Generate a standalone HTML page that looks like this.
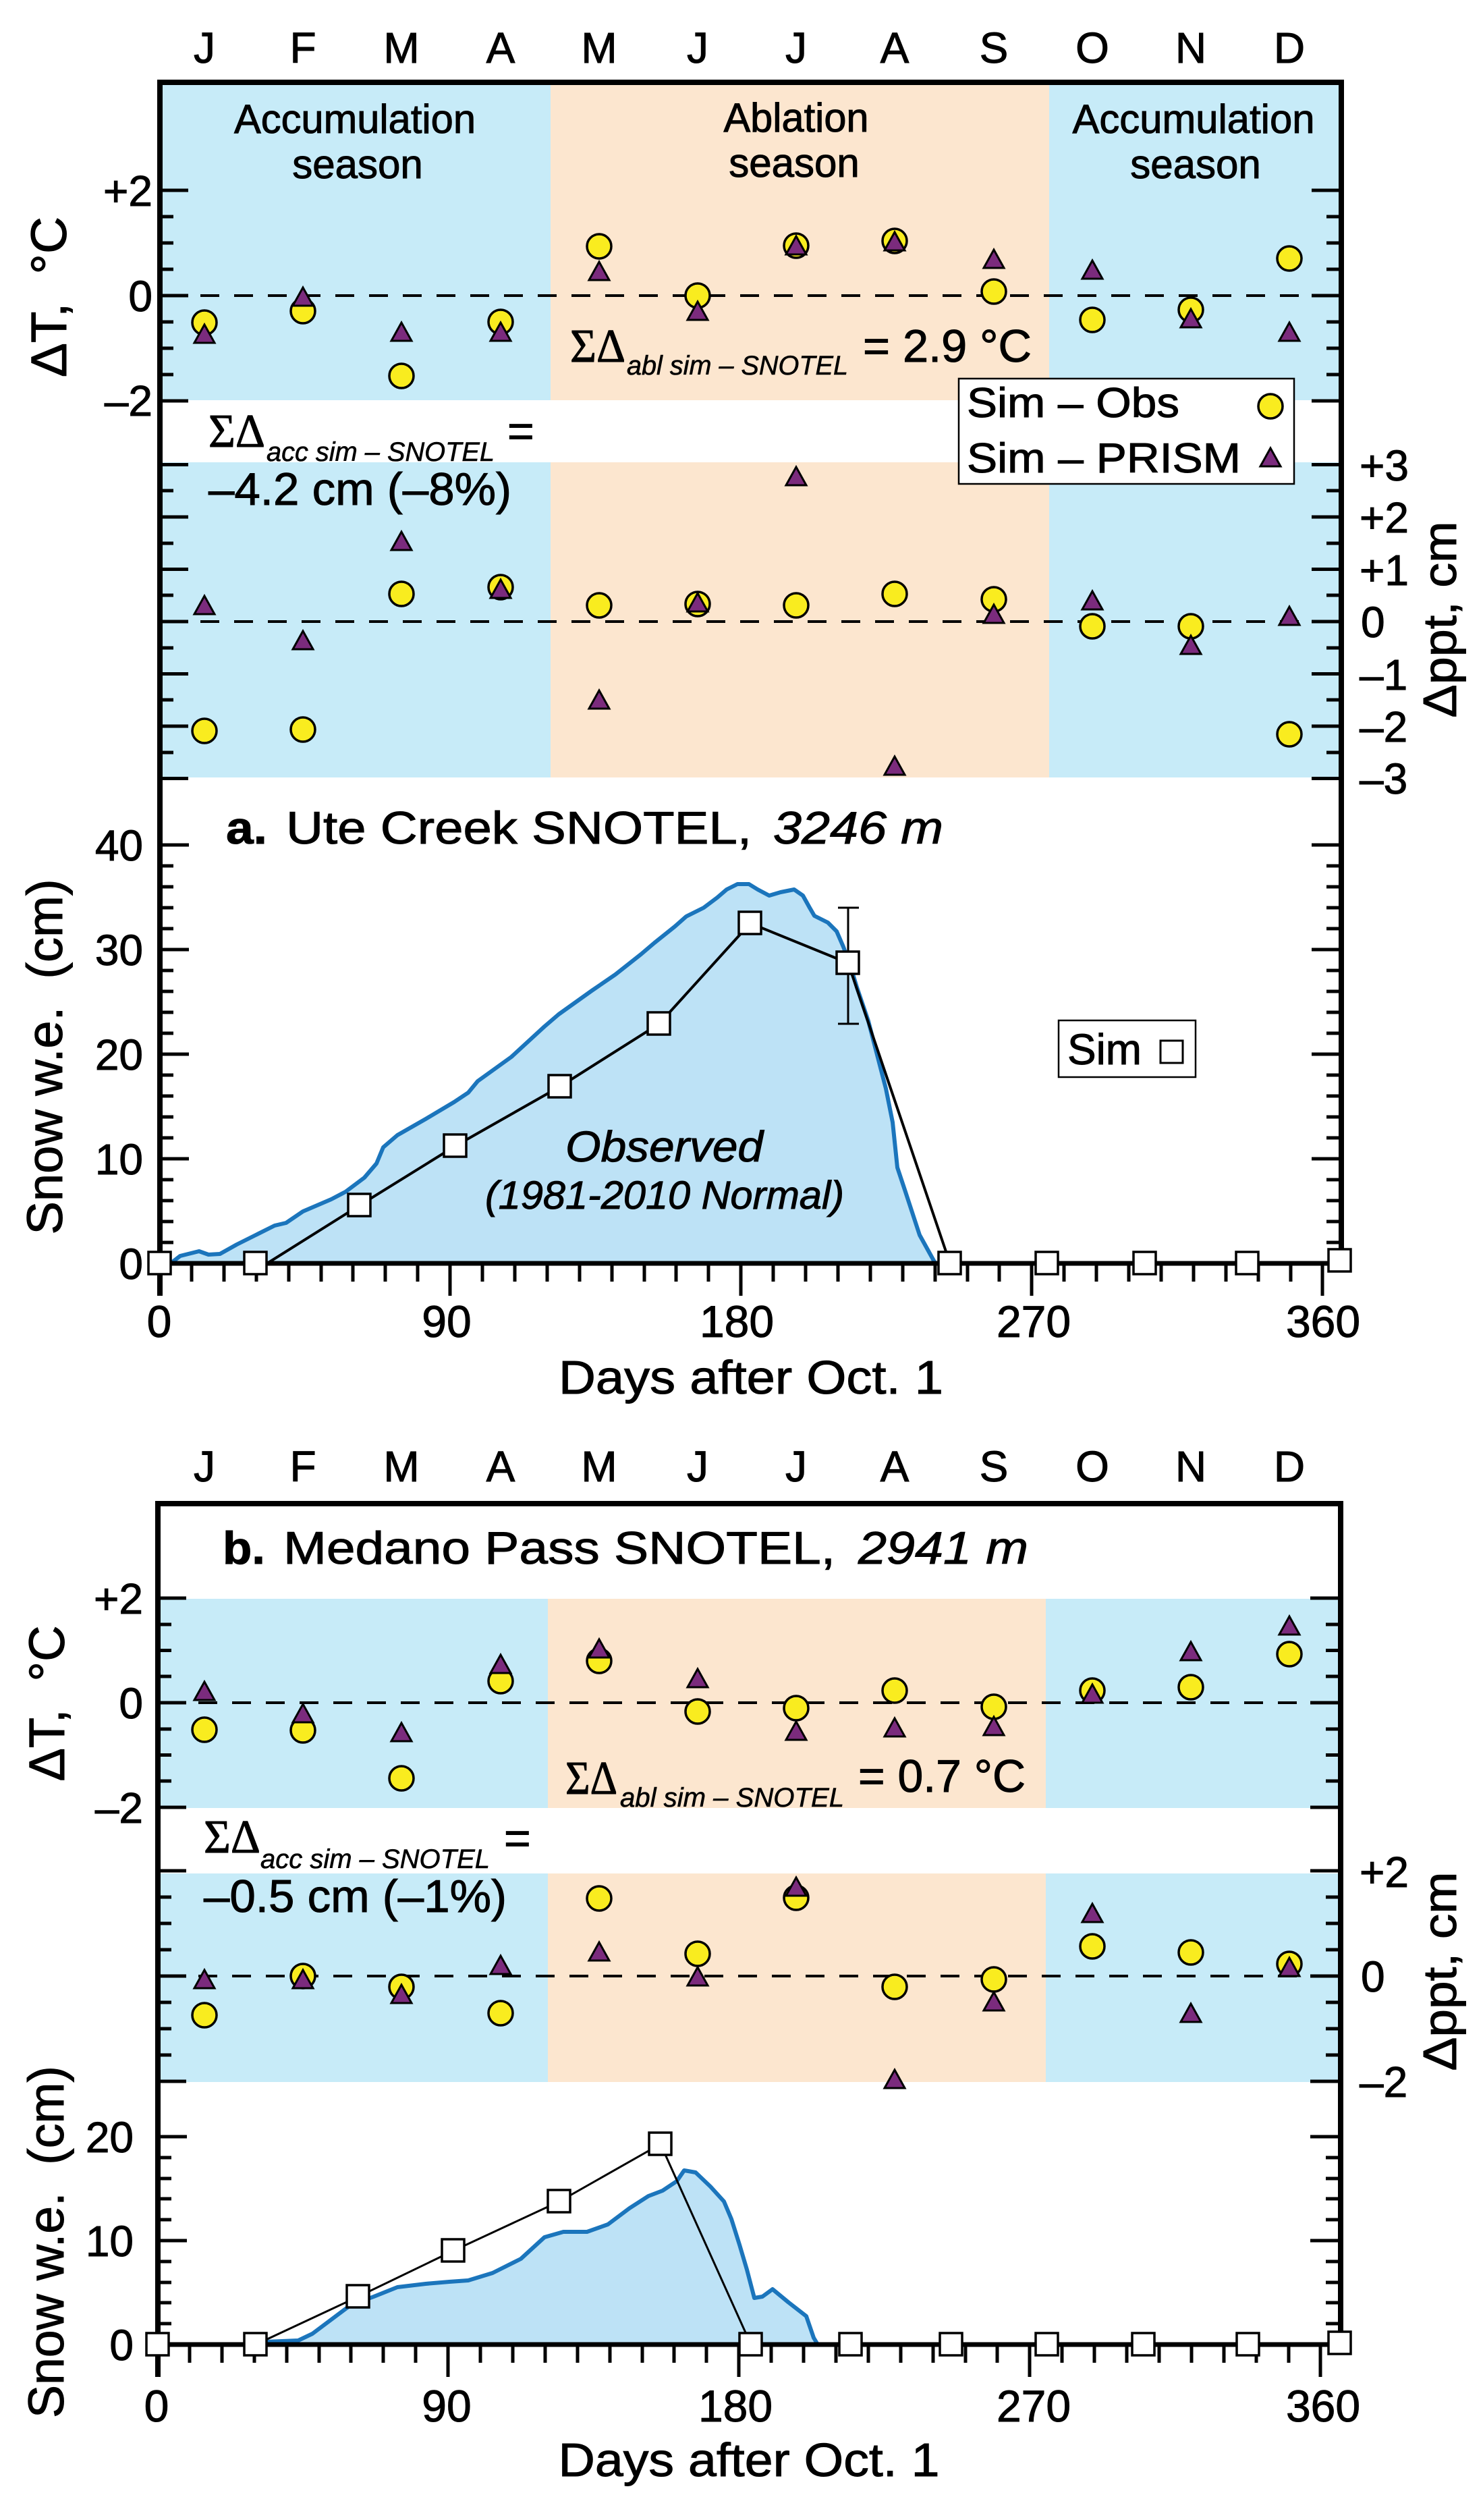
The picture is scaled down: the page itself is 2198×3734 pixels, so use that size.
<!DOCTYPE html>
<html><head><meta charset="utf-8"><style>
html,body{margin:0;padding:0;background:#fff;}
svg{display:block;}
text{font-family:"Liberation Sans",Arial,sans-serif;fill:#000;stroke:#000;stroke-width:1px;}
.sf{font-family:"Liberation Serif",serif;}
.it{font-style:italic;}
.sub{stroke-width:0.6px;}
</style></head><body>
<svg width="2198" height="3734" viewBox="0 0 2198 3734" xmlns="http://www.w3.org/2000/svg">
<defs>
<path id="tri" d="M0,-16L15,11H-15Z" fill="#7b2b7d" stroke="#000" stroke-width="3"/>
<circle id="cir" r="18" fill="#f9ec1f" stroke="#000" stroke-width="3.5"/>
<path id="xt" fill="none" stroke="#000" stroke-width="5" d="M284,1872v27M332,1872v27M380,1872v27M428,1872v27M476,1872v27M523,1872v27M571,1872v27M619,1872v27M715,1872v27M763,1872v27M811,1872v27M859,1872v27M907,1872v27M955,1872v27M1002,1872v27M1050,1872v27M1146,1872v27M1194,1872v27M1242,1872v27M1290,1872v27M1338,1872v27M1386,1872v27M1434,1872v27M1481,1872v27M1577,1872v27M1625,1872v27M1673,1872v27M1721,1872v27M1769,1872v27M1817,1872v27M1865,1872v27M1913,1872v27M667,1872v48M1098,1872v48M1529,1872v48M1960,1872v48"/>
</defs>
<rect width="2198" height="3734" fill="#fff"/>

<!-- ================= PANEL A ================= -->
<rect x="237" y="122" width="579" height="471" fill="#c7ebf8"/>
<rect x="237" y="685" width="579" height="467" fill="#c7ebf8"/>
<rect x="816" y="122" width="739" height="471" fill="#fce6cf"/>
<rect x="816" y="685" width="739" height="467" fill="#fce6cf"/>
<rect x="1555" y="122" width="433" height="471" fill="#c7ebf8"/>
<rect x="1555" y="685" width="433" height="467" fill="#c7ebf8"/>

<!-- observed a -->
<polygon fill="#bde2f6" points="253,1872 267,1861 295,1854 309,1859 326,1858 351,1844 379,1830 407,1816 424,1812 449,1795 491,1777 512,1766 540,1745 558,1724 568,1700 589,1682 631,1658 673,1633 694,1619 708,1602 758,1566 807,1521 828,1503 877,1468 912,1444 950,1414 970,1397 1000,1373 1017,1358 1043,1345 1063,1330 1077,1318 1093,1310 1110,1310 1123,1318 1140,1327 1157,1322 1177,1318 1190,1327 1200,1345 1207,1357 1227,1367 1240,1380 1250,1403 1260,1430 1270,1463 1287,1513 1300,1563 1313,1613 1323,1663 1330,1730 1342,1766 1363,1830 1384,1868 1387,1872"/>
<polyline fill="none" stroke="#1b75bc" stroke-width="6" stroke-linejoin="round" points="253,1872 267,1861 295,1854 309,1859 326,1858 351,1844 379,1830 407,1816 424,1812 449,1795 491,1777 512,1766 540,1745 558,1724 568,1700 589,1682 631,1658 673,1633 694,1619 708,1602 758,1566 807,1521 828,1503 877,1468 912,1444 950,1414 970,1397 1000,1373 1017,1358 1043,1345 1063,1330 1077,1318 1093,1310 1110,1310 1123,1318 1140,1327 1157,1322 1177,1318 1190,1327 1200,1345 1207,1357 1227,1367 1240,1380 1250,1403 1260,1430 1270,1463 1287,1513 1300,1563 1313,1613 1323,1663 1330,1730 1342,1766 1363,1830 1384,1868 1387,1872"/>

<!-- dashed zero lines a -->
<path d="M247,438H1984M247,921H1984" stroke="#000" stroke-width="4" stroke-dasharray="28 22" fill="none"/>

<!-- ticks a -->
<path fill="none" stroke="#000" stroke-width="5" d="M237,282h42M237,438h42M237,594h42M237,688.5h42M237,766h42M237,843.5h42M237,921h42M237,998.5h42M237,1076h42M237,1153.5h42M237,1252h43M237,1407h43M237,1562h43M237,1717h43
M237,321h20M237,360h20M237,399h20M237,477h20M237,516h20M237,555h20M237,727h20M237,805h20M237,882h20M237,960h20M237,1037h20M237,1115h20M237,1283h20M237,1314h20M237,1345h20M237,1376h20M237,1438h20M237,1469h20M237,1500h20M237,1531h20M237,1593h20M237,1624h20M237,1655h20M237,1686h20M237,1748h20M237,1779h20M237,1810h20M237,1841h20
M1988,282h-44M1988,438h-44M1988,594h-44M1988,688.5h-44M1988,766h-44M1988,843.5h-44M1988,921h-44M1988,998.5h-44M1988,1076h-44M1988,1153.5h-44M1988,1252h-44M1988,1407h-44M1988,1562h-44M1988,1717h-44
M1988,321h-22M1988,360h-22M1988,399h-22M1988,477h-22M1988,516h-22M1988,555h-22M1988,727h-22M1988,805h-22M1988,882h-22M1988,960h-22M1988,1037h-22M1988,1115h-22M1988,1283h-22M1988,1314h-22M1988,1345h-22M1988,1376h-22M1988,1438h-22M1988,1469h-22M1988,1500h-22M1988,1531h-22M1988,1593h-22M1988,1624h-22M1988,1655h-22M1988,1686h-22M1988,1748h-22M1988,1779h-22M1988,1810h-22M1988,1841h-22"/>
<use href="#xt"/>

<!-- frame a -->
<path d="M237,1920V122H1988V1872" fill="none" stroke="#000" stroke-width="8"/>
<path d="M237,1872H1988" fill="none" stroke="#000" stroke-width="7"/>

<!-- sim a -->
<polyline fill="none" stroke="#000" stroke-width="4" points="237,1872 396,1872 533,1786 675,1698 830,1610 977,1517 1112,1368 1257,1427 1408,1872 1986,1872"/>
<path d="M1257,1345V1517M1242,1345H1273M1242,1517H1273" stroke="#000" stroke-width="3" fill="none"/>
<g fill="#fff" stroke="#000" stroke-width="3.5">
<rect x="220" y="1855" width="33" height="33"/><rect x="362" y="1855" width="33" height="33"/><rect x="516" y="1769" width="33" height="33"/><rect x="658" y="1681" width="33" height="33"/><rect x="813" y="1593" width="33" height="33"/><rect x="960" y="1500" width="33" height="33"/><rect x="1095" y="1351" width="33" height="33"/><rect x="1240" y="1410" width="33" height="33"/><rect x="1391" y="1855" width="33" height="33"/><rect x="1535" y="1855" width="33" height="33"/><rect x="1680" y="1855" width="33" height="33"/><rect x="1832" y="1855" width="33" height="33"/><rect x="1969" y="1851" width="33" height="33"/>
</g>

<!-- markers a -->
<use href="#cir" x="303" y="478"/><use href="#cir" x="449" y="461"/><use href="#cir" x="595" y="557"/><use href="#cir" x="742" y="477"/><use href="#cir" x="888" y="365"/><use href="#cir" x="1034" y="438"/><use href="#cir" x="1180" y="364"/><use href="#cir" x="1326" y="357"/><use href="#cir" x="1473" y="432"/><use href="#cir" x="1619" y="474"/><use href="#cir" x="1765" y="459"/><use href="#cir" x="1911" y="383"/>
<use href="#tri" x="303" y="497"/><use href="#tri" x="449" y="442"/><use href="#tri" x="595" y="494"/><use href="#tri" x="742" y="494"/><use href="#tri" x="888" y="404"/><use href="#tri" x="1034" y="463"/><use href="#tri" x="1180" y="366"/><use href="#tri" x="1326" y="360"/><use href="#tri" x="1473" y="386"/><use href="#tri" x="1619" y="402"/><use href="#tri" x="1765" y="474"/><use href="#tri" x="1911" y="494"/>
<use href="#cir" x="303" y="1083"/><use href="#cir" x="449" y="1081"/><use href="#cir" x="595" y="880"/><use href="#cir" x="742" y="870"/><use href="#cir" x="888" y="897"/><use href="#cir" x="1034" y="895"/><use href="#cir" x="1180" y="897"/><use href="#cir" x="1326" y="880"/><use href="#cir" x="1473" y="888"/><use href="#cir" x="1619" y="928"/><use href="#cir" x="1765" y="928"/><use href="#cir" x="1911" y="1088"/>
<use href="#tri" x="303" y="899"/><use href="#tri" x="449" y="951"/><use href="#tri" x="595" y="804"/><use href="#tri" x="742" y="875"/><use href="#tri" x="888" y="1039"/><use href="#tri" x="1034" y="895"/><use href="#tri" x="1180" y="708"/><use href="#tri" x="1326" y="1137"/><use href="#tri" x="1473" y="912"/><use href="#tri" x="1619" y="892"/><use href="#tri" x="1765" y="958"/><use href="#tri" x="1911" y="915"/>

<!-- legend a -->
<rect x="1421" y="561" width="497" height="156" fill="#fff" stroke="#000" stroke-width="2.5"/>
<text x="1433" y="618" font-size="62" textLength="315" lengthAdjust="spacingAndGlyphs">Sim – Obs</text>
<text x="1433" y="700" font-size="62" textLength="406" lengthAdjust="spacingAndGlyphs">Sim – PRISM</text>
<use href="#cir" x="1883" y="602"/>
<use href="#tri" x="1883" y="680"/>

<rect x="1569" y="1512" width="203" height="84" fill="#fff" stroke="#000" stroke-width="2.5"/>
<text x="1582" y="1577" font-size="64" textLength="110" lengthAdjust="spacingAndGlyphs">Sim</text>
<rect x="1720" y="1542" width="33" height="33" fill="#fff" stroke="#000" stroke-width="3"/>

<!-- texts a -->
<g font-size="64" text-anchor="middle">
<text x="303" y="93">J</text><text x="449" y="93">F</text><text x="595" y="93">M</text><text x="742" y="93">A</text><text x="888" y="93">M</text><text x="1034" y="93">J</text><text x="1180" y="93">J</text><text x="1326" y="93">A</text><text x="1473" y="93">S</text><text x="1619" y="93">O</text><text x="1765" y="93">N</text><text x="1911" y="93">D</text>
</g>
<g font-size="60" text-anchor="middle">
<text x="526" y="197" textLength="358" lengthAdjust="spacingAndGlyphs">Accumulation</text>
<text x="530" y="264">season</text>
<text x="1180" y="195" textLength="215" lengthAdjust="spacingAndGlyphs">Ablation</text>
<text x="1177" y="262">season</text>
<text x="1769" y="197" textLength="359" lengthAdjust="spacingAndGlyphs">Accumulation</text>
<text x="1772" y="264">season</text>
</g>
<g font-size="64" text-anchor="end">
<text x="226" y="305">+2</text><text x="226" y="461">0</text><text x="226" y="616">–2</text>
<text x="212" y="1275">40</text><text x="212" y="1430">30</text><text x="212" y="1585">20</text><text x="212" y="1740">10</text><text x="212" y="1895">0</text>
</g>
<g font-size="64">
<text x="2015" y="712">+3</text><text x="2015" y="789">+2</text><text x="2015" y="867">+1</text><text x="2017" y="944">0</text><text x="2015" y="1022">–1</text><text x="2015" y="1099">–2</text><text x="2015" y="1176">–3</text>
</g>
<g font-size="66" text-anchor="middle">
<text x="236" y="1981">0</text><text x="662" y="1981">90</text><text x="1092" y="1981">180</text><text x="1532" y="1981">270</text><text x="1961" y="1981">360</text>
</g>
<text x="1113" y="2065" font-size="70" text-anchor="middle" textLength="570" lengthAdjust="spacingAndGlyphs">Days after Oct. 1</text>
<text transform="translate(98,440) rotate(-90)" font-size="74" text-anchor="middle" textLength="238" lengthAdjust="spacingAndGlyphs">ΔT,&#160; °C</text>
<text transform="translate(2158,918) rotate(-90)" font-size="70" text-anchor="middle" textLength="291" lengthAdjust="spacingAndGlyphs">Δppt, cm</text>
<text transform="translate(92,1566) rotate(-90)" font-size="74" text-anchor="middle" textLength="527" lengthAdjust="spacingAndGlyphs">Snow w.e.&#160; (cm)</text>

<text x="309" y="662" class="sf" font-size="70" textLength="84" lengthAdjust="spacingAndGlyphs">ΣΔ</text>
<text x="395" y="683" class="it sub" font-size="40" textLength="338" lengthAdjust="spacingAndGlyphs">acc sim – SNOTEL</text>
<text x="752" y="662" font-size="68">=</text>
<text x="309" y="748" font-size="68" textLength="449" lengthAdjust="spacingAndGlyphs">–4.2 cm (–8%)</text>

<text x="845" y="536" class="sf" font-size="70" textLength="82" lengthAdjust="spacingAndGlyphs">ΣΔ</text>
<text x="929" y="555" class="it sub" font-size="40" textLength="328" lengthAdjust="spacingAndGlyphs">abl sim – SNOTEL</text>
<text x="1279" y="536" font-size="68" textLength="250" lengthAdjust="spacingAndGlyphs">= 2.9 °C</text>

<text x="335" y="1250" font-size="68" font-weight="bold" textLength="61" lengthAdjust="spacingAndGlyphs">a.</text>
<text x="424" y="1250" font-size="68" textLength="690" lengthAdjust="spacingAndGlyphs">Ute Creek SNOTEL,</text>
<text x="1146" y="1250" font-size="68" class="it" textLength="252" lengthAdjust="spacingAndGlyphs">3246 m</text>

<text x="838" y="1721" font-size="64" class="it" textLength="293" lengthAdjust="spacingAndGlyphs">Observed</text>
<text x="719" y="1791" font-size="58" class="it" textLength="532" lengthAdjust="spacingAndGlyphs">(1981-2010 Normal)</text>

<!-- ================= PANEL B ================= -->
<rect x="234" y="2369" width="578" height="310" fill="#c7ebf8"/>
<rect x="234" y="2776" width="578" height="309" fill="#c7ebf8"/>
<rect x="812" y="2369" width="738" height="310" fill="#fce6cf"/>
<rect x="812" y="2776" width="738" height="309" fill="#fce6cf"/>
<rect x="1550" y="2369" width="437" height="310" fill="#c7ebf8"/>
<rect x="1550" y="2776" width="437" height="309" fill="#c7ebf8"/>

<polygon fill="#bde2f6" points="385,3474 393,3470 442,3468 463,3458 491,3437 519,3416 554,3403 589,3389 631,3384 666,3381 694,3379 730,3368 772,3347 807,3315 835,3307 870,3307 901,3296 933,3272 961,3254 982,3246 1003,3232 1014,3216 1031,3219 1053,3240 1073,3262 1084,3288 1096,3326 1107,3363 1118,3405 1130,3403 1145,3392 1168,3411 1195,3432 1206,3464 1212,3474"/>
<polyline fill="none" stroke="#1b75bc" stroke-width="6" stroke-linejoin="round" points="385,3474 393,3470 442,3468 463,3458 491,3437 519,3416 554,3403 589,3389 631,3384 666,3381 694,3379 730,3368 772,3347 807,3315 835,3307 870,3307 901,3296 933,3272 961,3254 982,3246 1003,3232 1014,3216 1031,3219 1053,3240 1073,3262 1084,3288 1096,3326 1107,3363 1118,3405 1130,3403 1145,3392 1168,3411 1195,3432 1206,3464 1212,3474"/>

<path d="M244,2523H1983M244,2928H1983" stroke="#000" stroke-width="4" stroke-dasharray="28 22" fill="none"/>

<path fill="none" stroke="#000" stroke-width="5" d="M234,2368h42M234,2523h42M234,2678h42M234,2772h42M234,2928h42M234,3084h42M234,3166h43M234,3320h43
M234,2407h20M234,2445.5h20M234,2484h20M234,2562h20M234,2600.5h20M234,2639h20M234,2811h20M234,2850h20M234,2889h20M234,2967h20M234,3006h20M234,3045h20M234,3197h20M234,3228h20M234,3258h20M234,3289h20M234,3351h20M234,3382h20M234,3412h20M234,3443h20
M1987,2368h-45M1987,2523h-45M1987,2678h-45M1987,2772h-45M1987,2928h-45M1987,3084h-45M1987,3166h-45M1987,3320h-45
M1987,2407h-22M1987,2445.5h-22M1987,2484h-22M1987,2562h-22M1987,2600.5h-22M1987,2639h-22M1987,2811h-22M1987,2850h-22M1987,2889h-22M1987,2967h-22M1987,3006h-22M1987,3045h-22M1987,3197h-22M1987,3228h-22M1987,3258h-22M1987,3289h-22M1987,3351h-22M1987,3382h-22M1987,3412h-22M1987,3443h-22"/>
<use href="#xt" transform="translate(-3,1602)"/>

<path d="M234,3522V2228H1987V3474" fill="none" stroke="#000" stroke-width="8"/>
<path d="M234,3474H1987" fill="none" stroke="#000" stroke-width="7"/>

<polyline fill="none" stroke="#000" stroke-width="3" points="233,3474 379,3474 531,3403 672,3335 829,3262 979,3177 1113,3474 1986,3474"/>
<g fill="#fff" stroke="#000" stroke-width="3.5">
<rect x="217" y="3457" width="33" height="33"/><rect x="362" y="3457" width="33" height="33"/><rect x="514" y="3386" width="33" height="33"/><rect x="655" y="3318" width="33" height="33"/><rect x="812" y="3245" width="33" height="33"/><rect x="962" y="3160" width="33" height="33"/><rect x="1096" y="3457" width="33" height="33"/><rect x="1244" y="3457" width="33" height="33"/><rect x="1393" y="3457" width="33" height="33"/><rect x="1535" y="3457" width="33" height="33"/><rect x="1678" y="3457" width="33" height="33"/><rect x="1833" y="3457" width="33" height="33"/><rect x="1969" y="3455" width="33" height="33"/>
</g>

<use href="#cir" x="303" y="2563"/><use href="#cir" x="449" y="2564"/><use href="#cir" x="595" y="2635"/><use href="#cir" x="742" y="2491"/><use href="#cir" x="888" y="2461"/><use href="#cir" x="1034" y="2536"/><use href="#cir" x="1180" y="2531"/><use href="#cir" x="1326" y="2505"/><use href="#cir" x="1473" y="2529"/><use href="#cir" x="1619" y="2505"/><use href="#cir" x="1765" y="2500"/><use href="#cir" x="1911" y="2451"/>
<use href="#tri" x="303" y="2508"/><use href="#tri" x="449" y="2541"/><use href="#tri" x="595" y="2569"/><use href="#tri" x="742" y="2468"/><use href="#tri" x="888" y="2445"/><use href="#tri" x="1034" y="2489"/><use href="#tri" x="1180" y="2567"/><use href="#tri" x="1326" y="2562"/><use href="#tri" x="1473" y="2560"/><use href="#tri" x="1619" y="2512"/><use href="#tri" x="1765" y="2449"/><use href="#tri" x="1911" y="2411"/>
<use href="#cir" x="303" y="2986"/><use href="#cir" x="449" y="2928"/><use href="#cir" x="595" y="2944"/><use href="#cir" x="742" y="2983"/><use href="#cir" x="888" y="2813"/><use href="#cir" x="1034" y="2895"/><use href="#cir" x="1180" y="2812"/><use href="#cir" x="1326" y="2944"/><use href="#cir" x="1473" y="2933"/><use href="#cir" x="1619" y="2884"/><use href="#cir" x="1765" y="2893"/><use href="#cir" x="1911" y="2910"/>
<use href="#tri" x="303" y="2935"/><use href="#tri" x="449" y="2935"/><use href="#tri" x="595" y="2957"/><use href="#tri" x="742" y="2914"/><use href="#tri" x="888" y="2894"/><use href="#tri" x="1034" y="2931"/><use href="#tri" x="1180" y="2798"/><use href="#tri" x="1326" y="3083"/><use href="#tri" x="1473" y="2968"/><use href="#tri" x="1619" y="2837"/><use href="#tri" x="1765" y="2985"/><use href="#tri" x="1911" y="2917"/>

<g font-size="64" text-anchor="middle">
<text x="303" y="2195">J</text><text x="449" y="2195">F</text><text x="595" y="2195">M</text><text x="742" y="2195">A</text><text x="888" y="2195">M</text><text x="1034" y="2195">J</text><text x="1180" y="2195">J</text><text x="1326" y="2195">A</text><text x="1473" y="2195">S</text><text x="1619" y="2195">O</text><text x="1765" y="2195">N</text><text x="1911" y="2195">D</text>
</g>
<g font-size="64" text-anchor="end">
<text x="212" y="2391">+2</text><text x="212" y="2546">0</text><text x="212" y="2701">–2</text>
<text x="198" y="3189">20</text><text x="198" y="3343">10</text><text x="198" y="3497">0</text>
</g>
<g font-size="64">
<text x="2015" y="2796">+2</text><text x="2017" y="2951">0</text><text x="2015" y="3107">–2</text>
</g>
<g font-size="66" text-anchor="middle">
<text x="232" y="3588">0</text><text x="662" y="3588">90</text><text x="1090" y="3588">180</text><text x="1532" y="3588">270</text><text x="1961" y="3588">360</text>
</g>
<text x="1110" y="3669" font-size="70" text-anchor="middle" textLength="565" lengthAdjust="spacingAndGlyphs">Days after Oct. 1</text>
<text transform="translate(95,2524) rotate(-90)" font-size="74" text-anchor="middle" textLength="231" lengthAdjust="spacingAndGlyphs">ΔT,&#160; °C</text>
<text transform="translate(2158,2921) rotate(-90)" font-size="70" text-anchor="middle" textLength="295" lengthAdjust="spacingAndGlyphs">Δppt, cm</text>
<text transform="translate(94,3322) rotate(-90)" font-size="74" text-anchor="middle" textLength="522" lengthAdjust="spacingAndGlyphs">Snow w.e.&#160; (cm)</text>

<text x="302" y="2745" class="sf" font-size="70" textLength="84" lengthAdjust="spacingAndGlyphs">ΣΔ</text>
<text x="386" y="2768" class="it sub" font-size="40" textLength="340" lengthAdjust="spacingAndGlyphs">acc sim – SNOTEL</text>
<text x="747" y="2747" font-size="68">=</text>
<text x="302" y="2833" font-size="68" textLength="449" lengthAdjust="spacingAndGlyphs">–0.5 cm (–1%)</text>

<text x="838" y="2658" class="sf" font-size="70" textLength="77" lengthAdjust="spacingAndGlyphs">ΣΔ</text>
<text x="919" y="2677" class="it sub" font-size="40" textLength="332" lengthAdjust="spacingAndGlyphs">abl sim – SNOTEL</text>
<text x="1272" y="2655" font-size="68" textLength="248" lengthAdjust="spacingAndGlyphs">= 0.7 °C</text>

<text x="330" y="2317" font-size="68" font-weight="bold" textLength="63" lengthAdjust="spacingAndGlyphs">b.</text>
<text x="420" y="2317" font-size="68" textLength="818" lengthAdjust="spacingAndGlyphs">Medano Pass SNOTEL,</text>
<text x="1272" y="2317" font-size="68" class="it" textLength="252" lengthAdjust="spacingAndGlyphs">2941 m</text>
</svg>
</body></html>
